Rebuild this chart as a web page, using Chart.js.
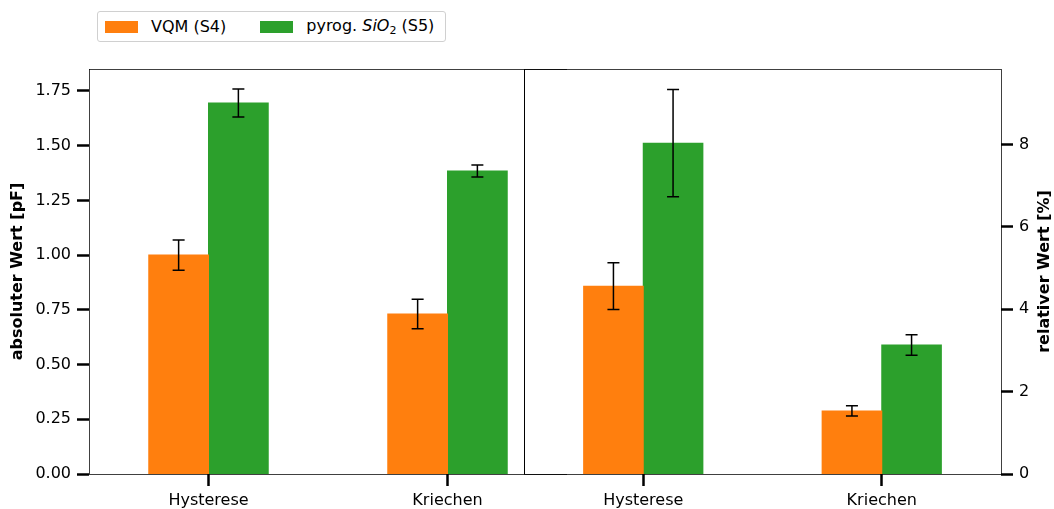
<!DOCTYPE html>
<html>
<head>
<meta charset="utf-8">
<script src="https://cdn.jsdelivr.net/npm/chart.js@4.4.1/dist/chart.umd.min.js"></script>
<style>
  html, body { margin: 0; padding: 0; background: #fff; }
  #wrap { position: relative; width: 1054px; height: 509px; font-family: "DejaVu Sans", sans-serif; }
  #wrap canvas { position: absolute; left: 0; top: 0; }
  #legend {
    position: absolute; left: 97px; top: 11px; height: 29px; padding: 0 11px 0 7px;
    border: 1px solid #d0d0d0; border-radius: 3px; background: #fff;
    display: flex; align-items: center; font-size: 16px; color: #000;
  }
  #legend .item { display: flex; align-items: center; margin-right: 34px; }
  #legend .item:last-child { margin-right: 0; }
  #legend .box { width: 33px; height: 12px; margin-right: 13px; }
  #legend sub { font-size: 11px; vertical-align: -3px; }
</style>
</head>
<body>
<div id="wrap">
  <canvas id="leftChart" width="1054" height="509"></canvas>
  <canvas id="rightChart" width="1054" height="509"></canvas>
  <div id="legend"></div>
</div>
<script>
const categories = ['Hysterese', 'Kriechen'];
const seriesNames = ['VQM (S4)', 'pyrog. SiO2 (S5)'];
const seriesLegend = ['VQM (S4)', 'pyrog. <i>SiO</i><sub>2</sub> (S5)'];
const colors = ['#ff7f0e', '#2ca02c'];

// absolute values [pF]
const absVQM = [1.00, 0.731];
const absSiO2 = [1.695, 1.384];
const absErrVQM = [0.069, 0.067];
const absErrSiO2 = [0.064, 0.027];

// relative values [%]
const relVQM = [4.56, 1.53];
const relSiO2 = [8.03, 3.13];
const relErrVQM = [0.565, 0.125];
const relErrSiO2 = [1.30, 0.25];

const absTicks = [0, 0.25, 0.5, 0.75, 1.0, 1.25, 1.5, 1.75];
const relTicks = [0, 2, 4, 6, 8];

const W = 1054, H = 509;
const font = { family: 'DejaVu Sans', size: 16 };

// legend (HTML so that SiO2 can be set in italics with a subscript)
document.getElementById('legend').innerHTML = seriesLegend.map((t, i) =>
  '<span class="item"><span class="box" style="background:' + colors[i] + '"></span><span>' + t + '</span></span>'
).join('');

const errorBars = {
  id: 'errorBars',
  afterDatasetsDraw(chart, args, opts) {
    const ctx = chart.ctx;
    const y = chart.scales.y;
    ctx.save();
    ctx.strokeStyle = '#000';
    ctx.lineWidth = 1.5;
    chart.data.datasets.forEach((ds, di) => {
      const meta = chart.getDatasetMeta(di);
      meta.data.forEach((bar, i) => {
        const v = ds.data[i], e = ds.errors[i];
        const x = bar.x;
        const y1 = y.getPixelForValue(v - e), y2 = y.getPixelForValue(v + e);
        ctx.beginPath();
        ctx.moveTo(x, y1); ctx.lineTo(x, y2);
        ctx.moveTo(x - 6, y1); ctx.lineTo(x + 6, y1);
        ctx.moveTo(x - 6, y2); ctx.lineTo(x + 6, y2);
        ctx.stroke();
      });
    });
    ctx.restore();
  }
};

// axes frame, drawn per panel
const frame = {
  id: 'frame',
  afterDraw(chart, args, opts) {
    const a = chart.chartArea, ctx = chart.ctx;
    ctx.save();
    ctx.lineWidth = 1;
    ctx.strokeStyle = 'rgba(0,0,0,0.75)';
    ctx.beginPath();
    ctx.moveTo(a.left, a.top + 0.5); ctx.lineTo(a.right, a.top + 0.5);
    ctx.moveTo(a.left, a.bottom + 0.5); ctx.lineTo(a.right, a.bottom + 0.5);
    if (opts.side === 'left') {
      ctx.moveTo(a.left + 0.5, a.top); ctx.lineTo(a.left + 0.5, a.bottom);
    } else {
      ctx.moveTo(a.right + 0.5, a.top); ctx.lineTo(a.right + 0.5, a.bottom);
    }
    ctx.stroke();
    if (opts.side === 'right') {
      ctx.strokeStyle = '#000';
      ctx.beginPath();
      ctx.moveTo(a.left + 0.5, a.top); ctx.lineTo(a.left + 0.5, a.bottom);
      ctx.stroke();
    }
    if (opts.title) {
      ctx.fillStyle = '#000';
      ctx.font = 'bold 16px "DejaVu Sans"';
      ctx.textAlign = 'center';
      ctx.textBaseline = 'middle';
      ctx.translate(opts.titleX, (a.top + a.bottom) / 2);
      ctx.rotate(-Math.PI / 2);
      ctx.fillText(opts.title, 0, 0);
    }
    ctx.restore();
  }
};

function makeDatasets(v1, e1, v2, e2) {
  return [
    { label: seriesNames[0], data: v1, errors: e1, backgroundColor: colors[0], inflateAmount: 0.5 },
    { label: seriesNames[1], data: v2, errors: e2, backgroundColor: colors[1], inflateAmount: 0.5 }
  ];
}

function xAxis() {
  return {
    offset: true,
    grid: { offset: false, drawOnChartArea: false, tickLength: 12, tickWidth: 2.5, tickColor: '#000' },
    border: { display: false },
    ticks: { color: '#000', font: font, padding: 5, maxRotation: 0 },
    afterFit(s) { s.height = H - 474; }
  };
}

function yAxis(position, max, step, tickVals, fmt, width) {
  return {
    position: position,
    min: 0, max: max,
    afterBuildTicks(s) { s.ticks = tickVals.map(v => ({ value: v })); },
    grid: { drawOnChartArea: false, tickLength: 12, tickWidth: 2.5, tickColor: '#000' },
    border: { display: false },
    ticks: { color: '#000', font: font, padding: 6, callback: fmt },
    afterFit(s) { s.width = width; }
  };
}

const common = {
  responsive: false,
  animation: false,
  events: [],
  datasets: { bar: { categoryPercentage: 0.5, barPercentage: 1.0 } },
  plugins: { legend: { display: false }, tooltip: { enabled: false } }
};

new Chart(document.getElementById('leftChart'), {
  type: 'bar',
  data: { labels: categories, datasets: makeDatasets(absVQM, absErrVQM, absSiO2, absErrSiO2) },
  options: Object.assign({}, common, {
    layout: { padding: { left: 0, right: W - 567, top: 69, bottom: 0 } },
    scales: {
      x: xAxis(),
      y: yAxis('left', 1.85, 0.25, absTicks, v => v.toFixed(2), 89)
    },
    plugins: Object.assign({}, common.plugins, {
      frame: { side: 'left', title: 'absoluter Wert [pF]', titleX: 18 }
    })
  }),
  plugins: [errorBars, frame]
});

new Chart(document.getElementById('rightChart'), {
  type: 'bar',
  data: { labels: categories, datasets: makeDatasets(relVQM, relErrVQM, relSiO2, relErrSiO2) },
  options: Object.assign({}, common, {
    layout: { padding: { left: 524, right: 0, top: 69, bottom: 0 } },
    scales: {
      x: xAxis(),
      y: yAxis('right', 9.83, 2, relTicks, v => String(v), W - 1001)
    },
    plugins: Object.assign({}, common.plugins, {
      frame: { side: 'right', title: 'relativer Wert [%]', titleX: 1045 }
    })
  }),
  plugins: [errorBars, frame]
});
</script>
</body>
</html>
